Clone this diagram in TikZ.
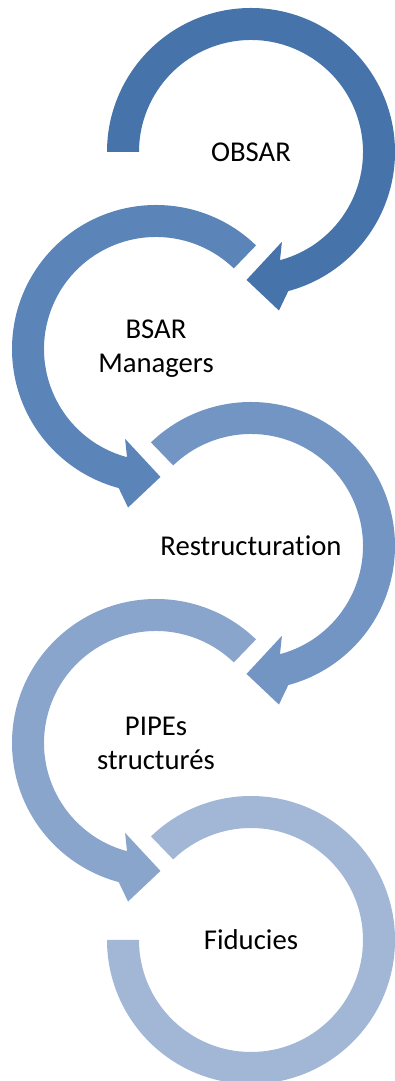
\documentclass[tikz,border=0pt]{standalone}
\usepackage{fontspec}
\setmainfont{Carlito}[Ligatures=NoCommon]
\usepackage{tikz}
\usetikzlibrary{positioning}
\definecolor{stepA}{RGB}{70,116,170}
\definecolor{stepB}{RGB}{91,132,185}
\definecolor{stepC}{RGB}{114,149,196}
\definecolor{stepD}{RGB}{138,165,204}
\definecolor{stepE}{RGB}{162,182,214}
\tikzset{
    label/.style={
           align=center,
           text=black,
           font=\fontsize{28.7}{34}\selectfont
           },
    band/.style={
           draw=none
           }
}
\begin{document}
\begin{tikzpicture}[x=1pt, y=1pt]
   \useasboundingbox (0,0) rectangle (395,1081);
   \node[label] (obsar) at (251,929) {OBSAR};
   \node[label] (bsar) at (156,732) {BSAR\\Managers};
   \node[label] (restr) at (251,535) {Restructuration};
   \node[label] (pipes) at (156,338) {PIPEs\\structurés};
   \node[label] (fid) at (251,141) {Fiducies};
   % clockwise arrows
   \begin{scope}[shift={(obsar.center)}]
   \fill[band, stepA] (180:144) arc[start angle=180, end angle=-75, radius=144]
      -- (-80:161) -- (-92:128) -- (-71:95) -- (-75:112)
      arc[start angle=-75, end angle=180, radius=112] -- cycle;
   \end{scope}
   \begin{scope}[shift={(restr.center)}]
   \fill[band, stepC] (134:144) arc[start angle=134, end angle=-75, radius=144]
      -- (-80:161) -- (-92:128) -- (-71:95) -- (-75:112)
      arc[start angle=-75, end angle=134, radius=112] -- cycle;
   \end{scope}
   % anticlockwise arrows
   \begin{scope}[shift={(bsar.center)}]
   \fill[band, stepB] (46:144) arc[start angle=46, end angle=255, radius=144]
      -- (260:161) -- (272:128) -- (251:95) -- (255:112)
      arc[start angle=255, end angle=46, radius=112] -- cycle;
   \end{scope}
   \begin{scope}[shift={(pipes.center)}]
   \fill[band, stepD] (46:144) arc[start angle=46, end angle=255, radius=144]
      -- (260:161) -- (272:128) -- (251:95) -- (255:112)
      arc[start angle=255, end angle=46, radius=112] -- cycle;
   \end{scope}
   % last ring, no head
   \begin{scope}[shift={(fid.center)}]
   \fill[band, stepE] (134:144) arc[start angle=134, end angle=-180, radius=144]
      -- (180:112) arc[start angle=-180, end angle=134, radius=112] -- cycle;
   \end{scope}
\end{tikzpicture}
\end{document}
